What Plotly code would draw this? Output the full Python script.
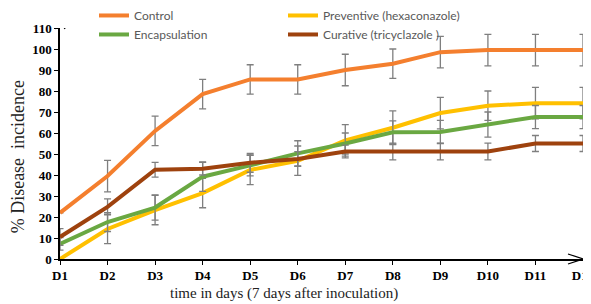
import plotly.graph_objects as go

days = ["D1", "D2", "D3", "D4", "D5", "D6", "D7", "D8", "D9", "D10", "D11", "D12"]
y_ticks = [0, 10, 20, 30, 40, 50, 60, 70, 80, 90, 100, 110]

control = [22, 39.5, 61, 78.5, 85.5, 85.5, 90, 93, 98.5, 99.5, 99.5, 99.5]
control_err = [0, 7.5, 7, 7, 7, 7, 7.5, 7, 7.5, 7.5, 7.5, 7.5]

preventive = [0, 14.3, 23.3, 31.4, 42.4, 46.8, 56.5, 62.5, 69.5, 73, 74.2, 74.2]
preventive_err = [0, 7, 7, 7, 7, 7, 7.5, 8, 7.5, 7, 7.5, 7.5]

encapsulation = [7.2, 17.6, 24.5, 39.2, 44.6, 50.3, 55, 60.3, 60.5, 64, 67.6, 67.6]
encapsulation_err = [3, 4.5, 6, 7, 5, 6, 5, 5.5, 5.5, 6, 5.5, 5.5]

curative = [10.5, 24.8, 42.5, 43, 45.8, 47.6, 51.2, 51.2, 51.2, 51.2, 55, 55]
curative_err = [4, 3.8, 3.5, 3, 4.5, 3.5, 3, 4, 4, 4, 3.8, 3.8]

series = [
    ("Control", control, control_err, "#F47F2E", "legend"),
    ("Preventive (hexaconazole)", preventive, preventive_err, "#FFC000", "legend2"),
    ("Encapsulation", encapsulation, encapsulation_err, "#6AA842", "legend"),
    ("Curative (tricyclazole )", curative, curative_err, "#9E420E", "legend2"),
]

fig = go.Figure()
for name, vals, err, color, lg in series:
    fig.add_trace(go.Scatter(
        x=days, y=vals, mode="lines", name=name,
        line=dict(color=color, width=4),
        error_y=dict(type="data", array=err, color="#7F7F7F", thickness=1.3, width=3.5),
        legend=lg,
    ))

W, H = 583, 296
legend_font = dict(family="Lato, Liberation Sans, sans-serif", size=12, color="#595959")
title_font = dict(family="Liberation Serif, serif", color="#222")
fig.update_layout(
    width=W, height=H,
    margin=dict(l=52, r=8, t=20, b=45, autoexpand=False),
    paper_bgcolor="white", plot_bgcolor="white",
    showlegend=True,
    legend=dict(x=86 / W, y=1.117, xref="container", yref="paper", xanchor="left", yanchor="top",
                font=legend_font, bgcolor="rgba(0,0,0,0)", itemwidth=30, tracegroupgap=0),
    legend2=dict(x=275 / W, y=1.117, xref="container", yref="paper", xanchor="left", yanchor="top",
                 font=legend_font, bgcolor="rgba(0,0,0,0)", itemwidth=30, tracegroupgap=0),
    xaxis=dict(
        type="category", range=[0, 11], showgrid=False, zeroline=False, automargin=False,
        showline=True, linecolor="black", linewidth=1.5,
        ticks="outside", ticklen=4, tickcolor="black", tickwidth=1.2,
        tickfont=dict(family="Liberation Serif, serif", size=13, color="black", weight="bold"),
    ),
    yaxis=dict(
        range=[0, 110], tickvals=y_ticks, showgrid=False, zeroline=False, automargin=False,
        showline=True, linecolor="black", linewidth=1.5,
        ticks="outside", ticklen=4, tickcolor="black", tickwidth=1.2,
        tickfont=dict(family="Liberation Serif, serif", size=13, color="black", weight="bold"),
    ),
)

# axis titles as annotations
fig.add_annotation(text="time in days (7 days after inoculation)", xref="paper", yref="paper",
                   x=0.428, y=0, yshift=-34, xanchor="center", yanchor="middle", showarrow=False,
                   font=dict(size=15, **title_font))
fig.add_annotation(text="% Disease  incidence", xref="paper", yref="paper",
                   x=0, xshift=-42, y=0.44, xanchor="center", yanchor="middle", showarrow=False,
                   textangle=-90, font=dict(size=18, **title_font))

# axis arrow extensions (pixel-sized, anchored at data/paper points)
fig.add_shape(type="path", xref="paper", yref="y", xsizemode="pixel", ysizemode="pixel",
              xanchor=0, yanchor=110, path="M -5,-1 L 0,8 L 5,-1 M 0,8 L 0,0",
              line=dict(color="black", width=1.3))
fig.add_shape(type="path", xref="paper", yref="paper", xsizemode="pixel", ysizemode="pixel",
              xanchor=1, yanchor=0, path="M -15,5 L 0,0 L -15,-5",
              line=dict(color="black", width=1.3))

fig.write_html("out.html")
